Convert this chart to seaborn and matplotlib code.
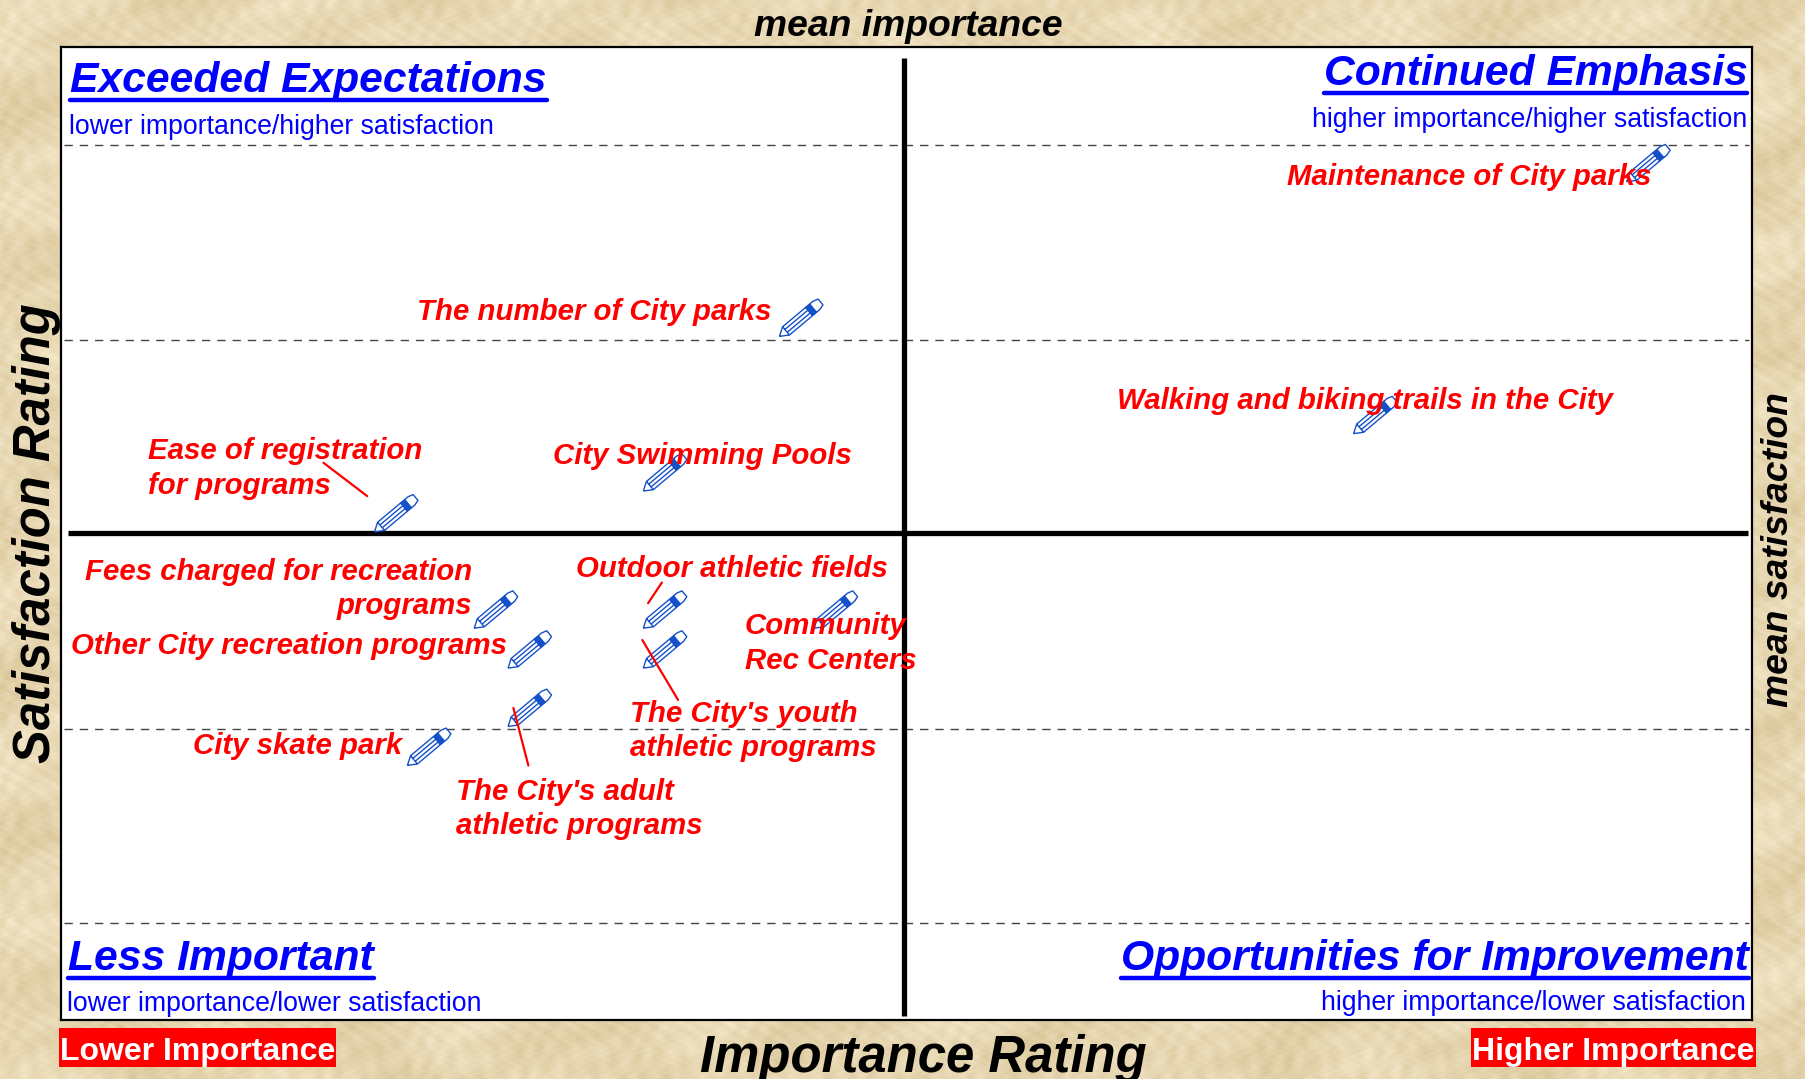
import matplotlib
matplotlib.use("Agg")
import matplotlib.pyplot as plt
from matplotlib.lines import Line2D
from matplotlib.markers import MarkerStyle
from matplotlib.patches import Rectangle
from matplotlib.path import Path
from matplotlib.transforms import Affine2D
import numpy as np
import pandas as pd
import seaborn as sns

items = ["Maintenance of City parks", "The number of City parks", "Walking and biking trails in the City",
         "City Swimming Pools", "Ease of registration for programs", "Fees charged for recreation programs",
         "Other City recreation programs", "Outdoor athletic fields", "The City's youth athletic programs",
         "Community Rec Centers", "The City's adult athletic programs", "City skate park"]
importance = [3.876, 2.874, 3.553, 2.713, 2.395, 2.513, 2.553, 2.713, 2.713, 2.915, 2.553, 2.434]
satisfaction = [3.980, 3.821, 3.721, 3.662, 3.620, 3.521, 3.480, 3.521, 3.480, 3.521, 3.420, 3.380]
grid_levels = [3.2, 3.4, 3.8, 4.0]
mean_importance = 2.997
mean_satisfaction = 3.601

W, H = 1805, 1079
SCALE = 1805 / 1568


def fx(x):
    return x * SCALE / W


def fy(y):
    return 1 - y * SCALE / H


sns.set_theme(style="white")
plt.rcParams['font.family'] = ['Liberation Sans', 'DejaVu Sans']

fig = plt.figure(figsize=(W / 100, H / 100), dpi=100)

# parchment backdrop
bg = fig.add_axes([0, 0, 1, 1], zorder=-1)
yy, xx = np.mgrid[0:H, 0:W]
tex = (np.sin(xx / 37 + np.sin(yy / 23) * 2.1) + np.sin(yy / 29 + np.sin(xx / 41) * 1.7)
       + 0.7 * np.sin((xx + yy) / 5.3 + np.sin(xx / 17) * 3) + 0.7 * np.sin((xx - yy) / 3.7 + np.sin(yy / 13) * 3)
       + 0.5 * np.sin(xx / 2.3 + np.sin(yy / 3.1) * 4))
tex = tex / np.abs(tex).max()
rgb = np.stack([231 + 14 * tex, 215 + 18 * tex, 178 + 26 * tex], axis=-1) / 255
bg.imshow(np.clip(rgb, 0, 1), aspect="auto")
bg.axis("off")

ax = fig.add_axes([fx(53), fy(886), fx(1522) - fx(53), fy(41) - fy(886)])
ax.set_facecolor("white")

# pencil marker, built along x then turned
verts = [(-25, 0), (-17, -5), (20, -5), (25, -3.5), (25, 3.5), (20, 5), (-17, 5), (-25, 0), (-17, -5), (-17, 5),
         (-17, -1.7), (11, -1.7), (-17, 1.7), (11, 1.7), (11, -5), (11, 5), (12, -5), (12, 5), (13, -5), (13, 5),
         (14, -5), (14, 5), (15, -5), (15, 5), (16, -5), (16, 5)]
codes = [Path.MOVETO] + [Path.LINETO] * 7 + [Path.MOVETO, Path.LINETO] * 9
pencil = Path(Affine2D().rotate_deg(40).transform(np.array(verts, dtype=float)), codes)

df = pd.DataFrame({"item": items, "importance": importance, "satisfaction": satisfaction})

ax.hlines(grid_levels, 2.003, 3.996, color="#444444", lw=1, ls=(0, (6, 5)), zorder=1)
sns.scatterplot(data=df, x="importance", y="satisfaction", marker=MarkerStyle(pencil), s=1090,
                facecolor="none", edgecolor="#1450c8", linewidth=1.0, zorder=3, ax=ax, legend=False)
ax.plot([mean_importance, mean_importance], [3.105, 4.09], color="black", lw=3.8, zorder=2, solid_capstyle="butt")
ax.plot([2.008, 3.995], [mean_satisfaction, mean_satisfaction], color="black", lw=3.8, zorder=2, solid_capstyle="butt")

ax.set_xlim(2, 4)
ax.set_ylim(3.1006, 4.1006)
ax.set_xticks([])
ax.set_yticks([])
ax.set_xlabel("")
ax.set_ylabel("")
for s in ax.spines.values():
    s.set_visible(True)
    s.set_color("black")
    s.set_linewidth(1.6)


def label(x, y, txt, size, color="black", ha="left", va="center", rot=0, weight="bold", style="italic", ls=1.2):
    return fig.text(fx(x), fy(y), txt, fontsize=size, color=color, ha=ha, va=va, rotation=rot,
                    fontweight=weight, fontstyle=style, linespacing=ls, zorder=10)


# quadrant headings
headings = [(61, 70, "Exceeded Expectations", "left"), (1518, 64, "Continued Emphasis", "right"),
            (59, 833, "Less Important", "left"), (1519, 833, "Opportunities for Improvement", "right")]
heads = []
for x, y, t, ha in headings:
    heads.append((label(x, y, t, 30.7, "#0000ff", ha=ha), y))
fig.canvas.draw()
for t, y in heads:
    bb = t.get_window_extent()
    fig.add_artist(Line2D([bb.x0 / W, bb.x1 / W], [fy(y + 17)] * 2, color="#0000ff", lw=3.2, zorder=10))

subs = [(60, 110, "lower importance/higher satisfaction", "left"), (1518, 104, "higher importance/higher satisfaction", "right"),
        (58, 872, "lower importance/lower satisfaction", "left"), (1517, 871, "higher importance/lower satisfaction", "right")]
for x, y, t, ha in subs:
    label(x, y, t, 19.2, "#0000ff", ha=ha, weight="normal", style="normal")

# item labels
labels = [(1118, 154, "Maintenance of City parks", "left"), (362, 271, "The number of City parks", "left"),
          (970, 348, "Walking and biking trails in the City", "left"), (480, 396, "City Swimming Pools", "left"),
          (129, 407, "Ease of registration\nfor programs", "left"), (410, 511.5, "Fees charged for recreation\nprograms", "right"),
          (62, 561, "Other City recreation programs", "left"), (500, 494, "Outdoor athletic fields", "left"),
          (547, 635, "The City's youth\nathletic programs", "left"), (647, 559, "Community\nRec Centers", "left"),
          (396, 702.5, "The City's adult\nathletic programs", "left"), (168, 648, "City skate park", "left")]
for x, y, t, ha in labels:
    label(x, y, t, 21.2, "#ff0000", ha=ha, ls=1.28)

leaders = [((281, 402), (319, 431)), ((575, 506), (563, 524)), ((558, 556), (589, 608)), ((446, 615), (459, 665))]
for a, b in leaders:
    fig.add_artist(Line2D([fx(a[0]), fx(b[0])], [fy(a[1]), fy(b[1])], color="#ff0000", lw=1.6, zorder=9))

# axis titles
label(789, 23, "mean importance", 26.8, ha="center")
label(802, 919.5, "Importance Rating", 36.6, ha="center")
label(32, 463, "Satisfaction Rating", 36.5, ha="center", rot=90)
label(1545, 477, "mean satisfaction", 26.8, ha="center", rot=90)

# red end caps
for x0, x1, t in [(51, 292, "Lower Importance"), (1278, 1525, "Higher Importance")]:
    fig.add_artist(Rectangle((fx(x0), fy(927)), fx(x1) - fx(x0), fy(893) - fy(927), transform=fig.transFigure,
                             facecolor="#ff0000", edgecolor="none", zorder=8))
    label((x0 + x1) / 2, 913.5, t, 23, "white", ha="center", style="normal")

fig.savefig("out.png", dpi=100)
